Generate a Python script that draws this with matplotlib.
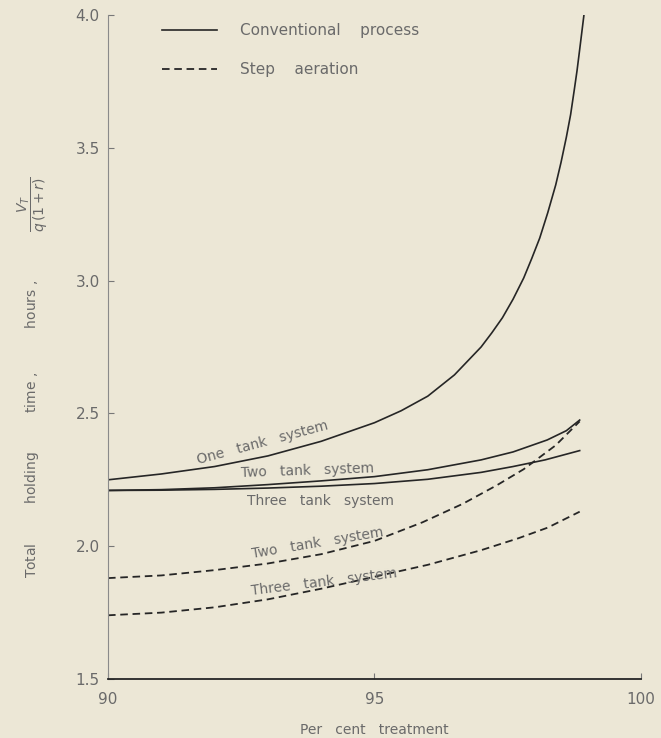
import matplotlib
matplotlib.use("Agg")
import matplotlib.pyplot as plt
from matplotlib.lines import Line2D

# per cent treatment vs total holding time, conventional process
one_tank_x = [90, 91, 92, 93, 94, 95, 95.5, 96, 96.5, 97, 97.2, 97.4, 97.6, 97.8,
              97.95, 98.1, 98.25, 98.4, 98.5, 98.6, 98.68, 98.75, 98.8, 98.85,
              98.89, 98.93]
one_tank_y = [2.25, 2.272, 2.30, 2.34, 2.395, 2.465, 2.51, 2.565, 2.645, 2.75, 2.803,
              2.86, 2.93, 3.01, 3.083, 3.16, 3.255, 3.36, 3.445, 3.54, 3.625, 3.72,
              3.79, 3.87, 3.935, 4.0]

two_tank_x = [90, 91, 92, 93, 94, 95, 96, 97, 97.6, 98.24, 98.6, 98.85]
two_tank_y = [2.21, 2.213, 2.22, 2.232, 2.246, 2.262, 2.288, 2.325, 2.355, 2.40, 2.435, 2.475]

three_tank_x = [90, 91, 92, 93, 94, 95, 96, 97, 97.6, 98.2, 98.85]
three_tank_y = [2.21, 2.211, 2.214, 2.219, 2.226, 2.236, 2.252, 2.278, 2.30, 2.325, 2.36]

# step aeration
step_two_x = [90, 91, 92, 93, 94, 95, 95.9, 96.66, 97.3, 97.8, 98.4, 98.85]
step_two_y = [1.88, 1.89, 1.91, 1.935, 1.97, 2.02, 2.09, 2.16, 2.23, 2.29, 2.38, 2.47]

step_three_x = [90, 91, 92, 93, 94, 95, 96, 97, 97.7, 98.25, 98.85]
step_three_y = [1.74, 1.75, 1.77, 1.80, 1.84, 1.885, 1.93, 1.985, 2.03, 2.07, 2.13]

x_ticks = [90, 95, 100]
y_ticks = [1.5, 2.0, 2.5, 3.0, 3.5, 4.0]

BG = "#ece7d6"
INK = "#262626"
TXT = "#6a6a6a"
DASH = (0, (4.2, 2.6))

fig = plt.figure(figsize=(6.61, 7.38), dpi=100, facecolor=BG)
ax = fig.add_axes([0.1634, 0.0799, 0.8063, 0.8998], facecolor=BG)

ax.plot(one_tank_x, one_tank_y, color=INK, lw=1.2)
ax.plot(two_tank_x, two_tank_y, color=INK, lw=1.2)
ax.plot(three_tank_x, three_tank_y, color=INK, lw=1.2)
ax.plot(step_two_x, step_two_y, color=INK, lw=1.3, linestyle=DASH)
ax.plot(step_three_x, step_three_y, color=INK, lw=1.3, linestyle=DASH)

# curve labels
ax.text(92.9, 2.39, "One   tank   system", rotation=15, ha="center", va="center",
        fontsize=10, color=TXT)
ax.text(93.75, 2.283, "Two   tank   system", rotation=2, ha="center", va="center",
        fontsize=10, color=TXT)
ax.text(93.98, 2.17, "Three   tank   system", rotation=0, ha="center", va="center",
        fontsize=10, color=TXT)
ax.text(93.94, 2.01, "Two   tank   system", rotation=9.5, ha="center", va="center",
        fontsize=10, color=TXT)
ax.text(94.05, 1.865, "Three   tank   system", rotation=7, ha="center", va="center",
        fontsize=10, color=TXT)

ax.set_xlim(90, 100)
ax.set_ylim(1.5, 4.0)
ax.set_xticks(x_ticks)
ax.set_yticks(y_ticks)
ax.set_xticklabels([str(v) for v in x_ticks])
ax.set_yticklabels([f"{v:.1f}" for v in y_ticks])
ax.tick_params(direction="in", length=4, width=0.8, colors="#777777",
               labelcolor=TXT, labelsize=11)
ax.tick_params(axis="x", pad=9)
ax.tick_params(axis="y", pad=6)

for side in ["top", "right"]:
    ax.spines[side].set_visible(False)
ax.spines["left"].set_color("#8a8a8a")
ax.spines["left"].set_linewidth(0.8)
ax.spines["bottom"].set_color(INK)
ax.spines["bottom"].set_linewidth(1.3)

ax.set_xlabel("Per   cent   treatment", fontsize=10, color=TXT, labelpad=12)
ax.set_ylabel(r"Total         holding         time ,          hours ,           "
              r"$\dfrac{V_T}{q\,(1+r)}$",
              fontsize=10, color=TXT)
ax.yaxis.set_label_coords(-0.108, 0.455)

handles = [Line2D([], [], color=INK, lw=1.2),
           Line2D([], [], color=INK, lw=1.3, linestyle=DASH)]
ax.legend(handles, ["Conventional    process", "Step    aeration"],
          loc="upper left", bbox_to_anchor=(0.101, 0.988), frameon=False,
          borderpad=0, borderaxespad=0, handlelength=3.6, handletextpad=1.5,
          labelspacing=1.6, fontsize=11, labelcolor=TXT)

fig.savefig("out.png", dpi=100, facecolor=BG)
